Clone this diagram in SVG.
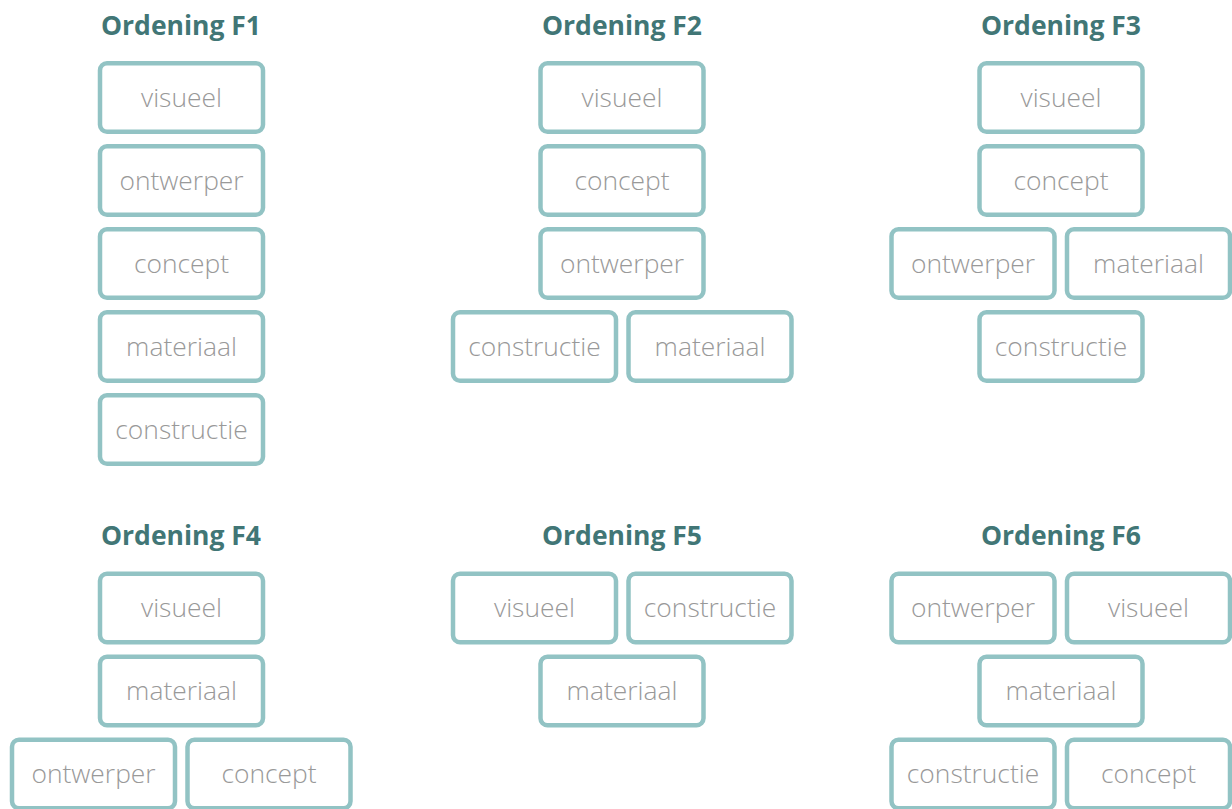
<svg xmlns="http://www.w3.org/2000/svg" width="1232" height="809" viewBox="0 0 1232 809">
<style>
.t{font-family:"Open Sans","Liberation Sans",sans-serif;font-weight:700;font-size:26.5px;fill:#417676;text-anchor:middle}
.b text{font-family:"Open Sans","Liberation Sans",sans-serif;font-weight:300;font-size:26.4px;fill:#999999;text-anchor:middle;dominant-baseline:central}
</style>
<defs>
<rect id="r" x="-81.5" y="-34.3" width="163" height="68.6" rx="7" fill="#ffffff" stroke="#92c3c4" stroke-width="4.5"/>
</defs>
<rect width="1232" height="809" fill="#fff"/>
<g id="titles">
<text class="t" x="181" y="34.5">Ordening F1</text>
<text class="t" x="622" y="34.5">Ordening F2</text>
<text class="t" x="1061" y="34.5">Ordening F3</text>
<text class="t" x="181" y="544.5">Ordening F4</text>
<text class="t" x="622" y="544.5">Ordening F5</text>
<text class="t" x="1061" y="544.5">Ordening F6</text>
</g>
<g id="F1">
<g class="b" id="f1-visueel" transform="translate(181.5,97.5)"><use href="#r"/><text y="-1">visueel</text></g>
<g class="b" id="f1-ontwerper" transform="translate(181.5,180.5)"><use href="#r"/><text y="-1">ontwerper</text></g>
<g class="b" id="f1-concept" transform="translate(181.5,263.5)"><use href="#r"/><text y="-1">concept</text></g>
<g class="b" id="f1-materiaal" transform="translate(181.5,346.5)"><use href="#r"/><text y="-1">materiaal</text></g>
<g class="b" id="f1-constructie" transform="translate(181.5,429.5)"><use href="#r"/><text y="-1">constructie</text></g>
</g>
<g id="F2">
<g class="b" id="f2-visueel" transform="translate(622,97.5)"><use href="#r"/><text y="-1">visueel</text></g>
<g class="b" id="f2-concept" transform="translate(622,180.5)"><use href="#r"/><text y="-1">concept</text></g>
<g class="b" id="f2-ontwerper" transform="translate(622,263.5)"><use href="#r"/><text y="-1">ontwerper</text></g>
<g class="b" id="f2-constructie" transform="translate(534.5,346.5)"><use href="#r"/><text y="-1">constructie</text></g>
<g class="b" id="f2-materiaal" transform="translate(710,346.5)"><use href="#r"/><text y="-1">materiaal</text></g>
</g>
<g id="F3">
<g class="b" id="f3-visueel" transform="translate(1061,97.5)"><use href="#r"/><text y="-1">visueel</text></g>
<g class="b" id="f3-concept" transform="translate(1061,180.5)"><use href="#r"/><text y="-1">concept</text></g>
<g class="b" id="f3-ontwerper" transform="translate(973,263.5)"><use href="#r"/><text y="-1">ontwerper</text></g>
<g class="b" id="f3-materiaal" transform="translate(1148.5,263.5)"><use href="#r"/><text y="-1">materiaal</text></g>
<g class="b" id="f3-constructie" transform="translate(1061,346.5)"><use href="#r"/><text y="-1">constructie</text></g>
</g>
<g id="F4">
<g class="b" id="f4-visueel" transform="translate(181.5,608)"><use href="#r"/><text y="-1">visueel</text></g>
<g class="b" id="f4-materiaal" transform="translate(181.5,691)"><use href="#r"/><text y="-1">materiaal</text></g>
<g class="b" id="f4-ontwerper" transform="translate(93.5,774)"><use href="#r"/><text y="-1">ontwerper</text></g>
<g class="b" id="f4-concept" transform="translate(269,774)"><use href="#r"/><text y="-1">concept</text></g>
</g>
<g id="F5">
<g class="b" id="f5-visueel" transform="translate(534.5,608)"><use href="#r"/><text y="-1">visueel</text></g>
<g class="b" id="f5-constructie" transform="translate(710,608)"><use href="#r"/><text y="-1">constructie</text></g>
<g class="b" id="f5-materiaal" transform="translate(622,691)"><use href="#r"/><text y="-1">materiaal</text></g>
</g>
<g id="F6">
<g class="b" id="f6-ontwerper" transform="translate(973,608)"><use href="#r"/><text y="-1">ontwerper</text></g>
<g class="b" id="f6-visueel" transform="translate(1148.5,608)"><use href="#r"/><text y="-1">visueel</text></g>
<g class="b" id="f6-materiaal" transform="translate(1061,691)"><use href="#r"/><text y="-1">materiaal</text></g>
<g class="b" id="f6-constructie" transform="translate(973,774)"><use href="#r"/><text y="-1">constructie</text></g>
<g class="b" id="f6-concept" transform="translate(1148.5,774)"><use href="#r"/><text y="-1">concept</text></g>
</g>
<g id="connectors"/>
</svg>
